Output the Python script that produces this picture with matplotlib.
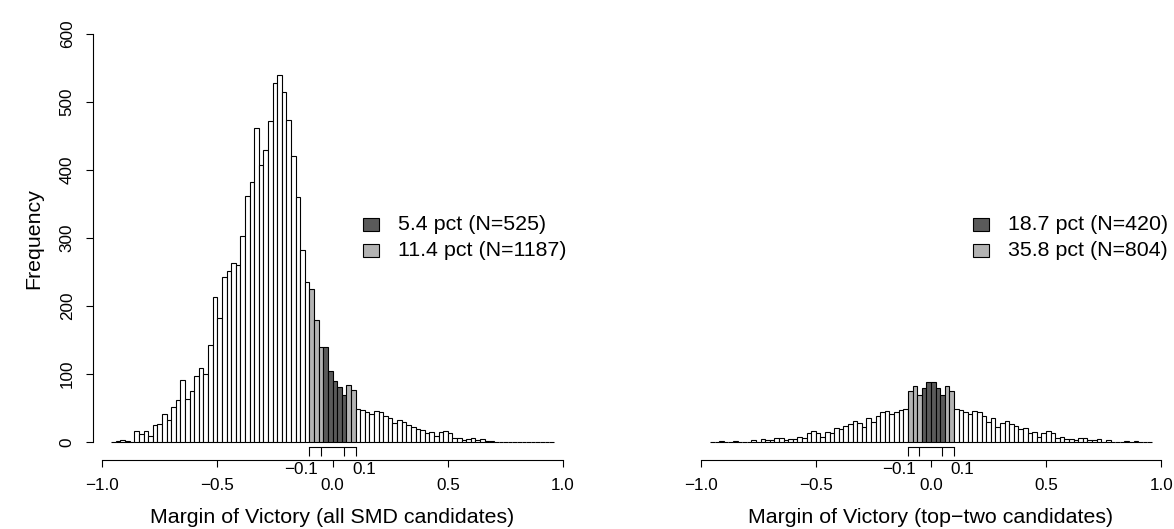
import matplotlib.pyplot as plt
from matplotlib.patches import Rectangle

plt.rcParams['font.family'] = ['Liberation Sans', 'DejaVu Sans']

# histogram bins: width 0.02, first bin starts at -0.96
binWidth = 0.02
binStart = -0.96

# counts (all SMD candidates)
allCounts = [1, 2, 3, 2, 1, 17, 12, 16, 9, 25, 27, 42, 33, 52, 62, 92, 63, 75, 98, 109,
             101, 143, 214, 183, 243, 251, 264, 261, 303, 362, 382, 462, 407, 430, 472, 528, 540, 515, 473, 420,
             361, 283, 236, 225, 179, 140, 140, 104, 90, 81, 70, 84, 77, 49, 48, 44, 41, 46, 44, 38,
             35, 29, 32, 30, 25, 22, 20, 18, 14, 15, 9, 15, 16, 13, 6, 6, 4, 5, 6, 3,
             5, 2, 2, 1, 0, 1, 0, 1, 0, 1, 0, 1, 0, 1, 0, 1]

# counts (top-two candidates)
topTwoCounts = [1, 0, 2, 0, 0, 2, 0, 1, 0, 3, 1, 5, 4, 3, 6, 6, 4, 5, 5, 8,
                6, 13, 16, 13, 8, 15, 14, 21, 19, 24, 27, 31, 28, 23, 36, 30, 39, 44, 46, 41,
                44, 48, 49, 76, 83, 69, 80, 89, 89, 80, 69, 83, 76, 49, 48, 44, 41, 46, 44, 39,
                30, 36, 23, 28, 31, 27, 24, 19, 21, 14, 15, 8, 13, 16, 13, 6, 8, 5, 5, 4,
                6, 6, 3, 4, 5, 1, 3, 0, 1, 0, 2, 0, 2, 0, 1, 0]

allLegend = ['5.4 pct (N=525)', '11.4 pct (N=1187)']
topTwoLegend = ['18.7 pct (N=420)', '35.8 pct (N=804)']
xTicks = [-1.0, -0.5, 0.0, 0.5, 1.0]
xTickLabels = ['\u22121.0', '\u22120.5', '0.0', '0.5', '1.0']
bracketTicks = [-0.1, -0.05, 0.05, 0.1]
yTicks = [0, 100, 200, 300, 400, 500, 600]

darkGray = '#5a5a5a'
lightGray = '#b3b3b3'


def binColour(left):
    if -0.045 < left < 0.055:
        return darkGray
    if -0.105 < left < 0.095:
        return lightGray
    return 'white'


def drawHist(ax, counts, legendLabels, xlabel, legendX):
    edges = [binStart + k * binWidth for k in range(len(counts))]
    colours = [binColour(e) for e in edges]
    ax.bar(edges, counts, width=binWidth, align='edge', color=colours,
           edgecolor='black', linewidth=0.8)
    ax.set_xlim(-1.04, 1.04)
    ax.set_ylim(-24, 624)

    # bracket marking the +-0.05 / +-0.1 windows
    ax.plot([-0.1, 0.1], [-7.3, -7.3], color='black', lw=0.8, clip_on=False)
    ax.vlines(bracketTicks, -20, -7.3, color='black', lw=0.8, clip_on=False)

    ax.spines['top'].set_visible(False)
    ax.spines['right'].set_visible(False)
    ax.spines['bottom'].set_bounds(-1, 1)
    ax.spines['bottom'].set_position(('outward', 1))
    ax.spines['bottom'].set_linewidth(0.8)
    ax.set_xticks(xTicks)
    ax.set_xticklabels(xTickLabels)
    ax.tick_params(axis='x', length=5, width=0.8, pad=8, labelsize=12.3)
    ax.text(-0.138, -40.7, '\u22120.1', ha='center', va='center', fontsize=12.3, clip_on=False)
    ax.text(0.138, -40.7, '0.1', ha='center', va='center', fontsize=12.3, clip_on=False)
    ax.text(0, -111, xlabel, ha='center', va='center', fontsize=15.4, clip_on=False)

    # legend drawn by hand, no frame
    for k, (lab, col) in enumerate(zip(legendLabels, [darkGray, lightGray])):
        yc = 0.531 - k * 0.059
        ax.add_patch(Rectangle((legendX, yc - 0.0142), 0.0334, 0.0284, transform=ax.transAxes,
                               facecolor=col, edgecolor='black', lw=0.8, clip_on=False))
        ax.text(legendX + 0.073, yc, lab, transform=ax.transAxes, ha='left', va='center',
                fontsize=15.4)


fig = plt.figure(figsize=(11.74, 5.29), dpi=100)
axLeft = fig.add_axes([0.07905, 0.1331, 0.4084, 0.8335])
axRight = fig.add_axes([0.58901, 0.1331, 0.4079, 0.8335])

drawHist(axLeft, allCounts, allLegend, 'Margin of Victory (all SMD candidates)', 0.5636)
drawHist(axRight, topTwoCounts, topTwoLegend, 'Margin of Victory (top\u2212two candidates)', 0.5878)

axLeft.spines['left'].set_bounds(0, 600)
axLeft.spines['left'].set_linewidth(0.8)
axLeft.set_yticks(yTicks)
axLeft.set_yticklabels([str(v) for v in yTicks], rotation=90, va='center')
axLeft.tick_params(axis='y', length=5, width=0.8, pad=8, labelsize=12.3)
axLeft.set_ylabel('Frequency', fontsize=15.4, labelpad=12)

axRight.spines['left'].set_visible(False)
axRight.set_yticks([])

plt.savefig('out.png', dpi=100)
